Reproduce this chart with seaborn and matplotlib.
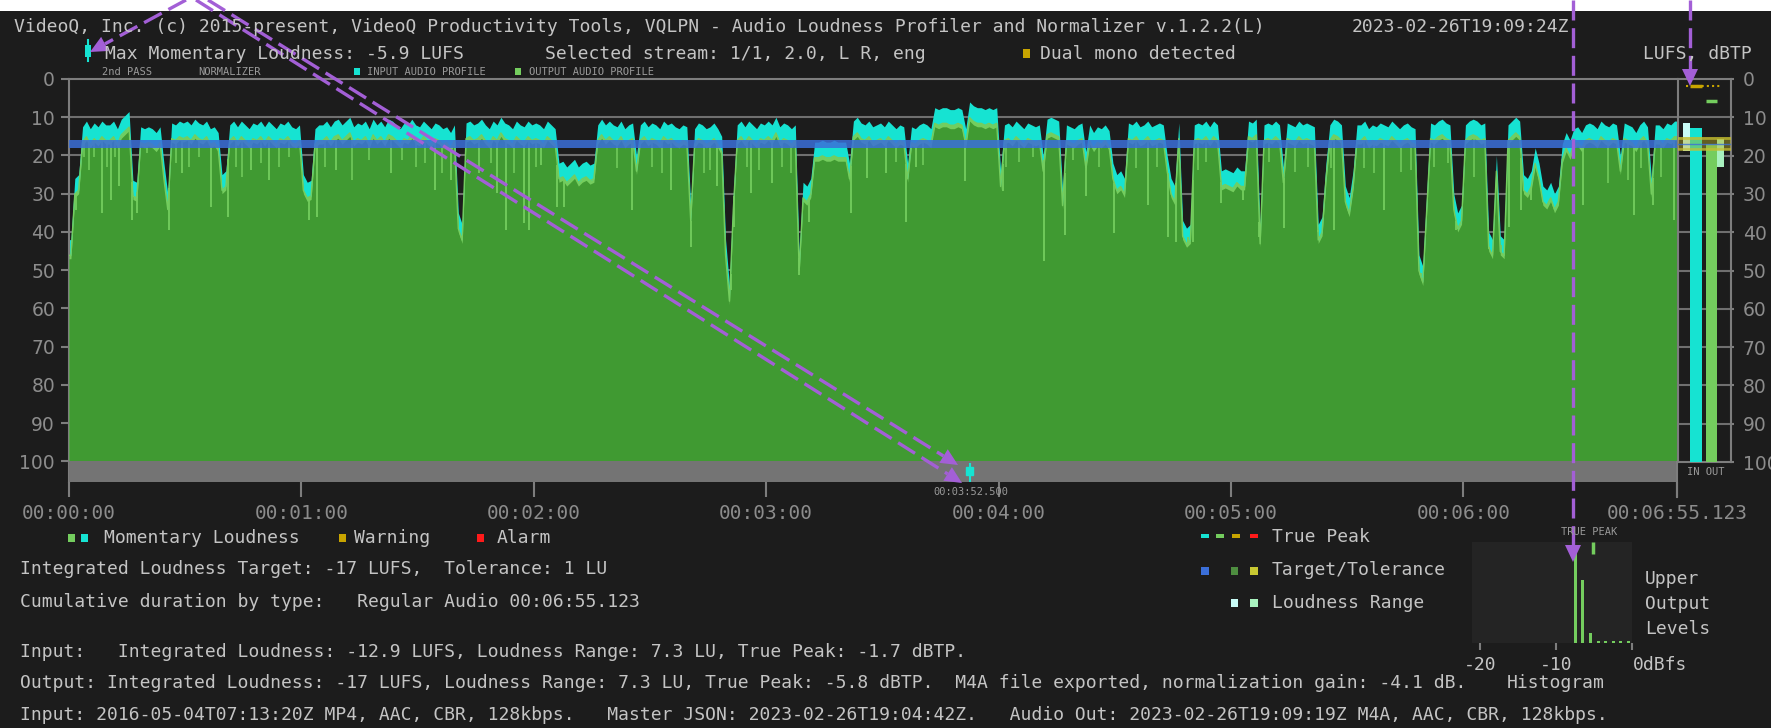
import numpy as np
import pandas as pd
import seaborn as sns
import matplotlib.pyplot as plt
from matplotlib.patches import Rectangle, Polygon

W, H = 1771, 728

# momentary loudness of the input, LU below 0 LUFS, one value per second
momentary_in = [
    42, 26, 25, 12.5, 11, 13, 11.5, 12.5, 11, 12,
    12, 11, 13, 10.5, 9.5, 8.5, 26.5, 27, 12.5, 13,
    12.5, 13, 14, 12.5, 22, 30, 11.5, 12, 11, 11.5,
    11, 12, 10.5, 11.5, 12, 11, 13, 12.5, 14, 25,
    24, 12, 11, 12.5, 11, 12, 13, 11.5, 12, 11,
    12.5, 11, 12, 13, 11.5, 12, 11, 12.5, 13, 12,
    25, 27, 26.5, 13, 12, 12, 11, 12.5, 11, 10.5,
    12, 11, 10, 12.5, 11.5, 12, 11, 13, 10.5, 12,
    11, 12.5, 10.5, 11, 12, 13, 11.5, 12, 10.5, 12,
    12.5, 11, 12, 13, 11.5, 12, 13, 12.5, 14, 12,
    35, 38, 11.5, 11, 12, 11.5, 10.5, 12, 13, 11,
    12, 10, 11.5, 12, 13, 11, 12, 12.5, 11, 12,
    11.5, 12, 13, 11, 12, 13, 22, 21.5, 23, 22,
    21, 23, 22, 21.5, 22.5, 22, 12, 10.5, 12, 11,
    12, 12.5, 11, 13, 12, 11.5, 20, 12, 11, 12.5,
    11.5, 12, 13, 11, 12, 11.5, 12.5, 13, 12, 12.5,
    33, 13, 11.5, 12, 13, 12.5, 11.5, 13, 15, 42,
    54, 30, 12, 11, 12.5, 11, 12, 13, 11.5, 12,
    11, 12, 10, 12.5, 11.5, 12, 13, 12, 46, 27,
    28, 26, 16.5, 16.5, 16, 16.5, 16.5, 16, 16.5, 16.5,
    16.5, 22, 11, 10, 11.5, 12, 11, 12.5, 12, 11.5,
    12.5, 11, 12, 13, 12, 12.5, 22, 12.5, 13, 12,
    11.5, 12, 13, 7.5, 8, 7.5, 7.5, 8, 8, 7.5,
    8, 13, 6, 7, 7.5, 7.5, 8, 7.5, 8, 7.5,
    24, 12, 11.5, 12.5, 11, 12, 13, 11.5, 12, 12.5,
    12, 20, 10.5, 10, 10.5, 11, 29, 12, 12.5, 13,
    12, 11.5, 19, 12, 14, 12.5, 13, 12, 13.5, 22,
    25, 24, 26, 11.5, 12, 11, 12.5, 12, 11, 12.5,
    12, 11.5, 12, 20, 26, 28, 11.5, 37, 39, 38,
    12, 11.5, 12, 11, 12.5, 11, 12, 24, 23.5, 24,
    24.5, 23, 24, 24, 11, 11.5, 10.5, 39, 12, 11.5,
    12, 11, 12, 23, 11.5, 12, 12.5, 11, 12, 11.5,
    12, 12.5, 38, 36, 22, 12, 10.5, 11, 12, 28,
    31, 24, 12, 12, 11, 13, 12, 12.5, 11.5, 12,
    12.5, 11, 12, 13, 12, 11.5, 12.5, 13, 46, 49,
    30, 11.5, 12, 11, 10.5, 11.5, 12, 30, 35, 33,
    12, 11, 10.5, 11, 12, 11.5, 40, 42, 20, 41,
    42, 12, 11, 10, 11, 25, 26, 24, 18, 22,
    28, 29, 27, 30, 28, 17, 14, 16, 13, 12.5,
    14, 12, 11.5, 12, 13, 11, 12, 12.5, 11.5, 12,
    20, 11.5, 12, 12.5, 14, 12, 11, 12.5, 26, 12,
    12, 13, 11.5, 12, 11,
]
duration_s = 415.123
norm_gain_db = -4.1

# short deep drops of the output curve (time s, depth LU)
dip_t = [1.7, 8.6, 10.8, 12.9, 16.3, 17.6, 25.8, 29.2, 36.6, 41.1, 47.1, 51.6, 61.9, 64.0, 68.8, 83.0, 94.6, 98.5, 101.5,
         105.8, 110.6, 112.7, 117.5, 118.8, 121.8, 126.1, 127.8, 145.4, 155.3, 160.5, 167.4, 170.8, 171.7, 176.0, 181.6,
         188.4, 191.0, 201.8, 206.0,
         211.0, 216.1, 218.7, 231.2, 241.0, 251.8, 257.0, 262.6, 269.9, 278.5, 283.6, 285.8, 288.8, 290.1, 297.4, 303.0,
         307.3,
         313.6, 322.4, 326.7, 339.6, 349.0, 358.1, 366.7, 369.7, 371.8, 374.9, 377.4, 390.8, 404.1, 408.8, 414.4]
dip_depth = [34.2, 35.1, 31.6, 28.1, 36.8, 35.1, 39.5, 24.6, 33.4, 36.0, 23.8, 26.4, 36.8, 36.0, 23.8, 24.6, 29.0, 26.4, 42.1,
             24.6, 29.9, 39.5, 37.7, 39.5, 22.5, 33.4, 33.4, 34.2, 29.0, 43.8, 28.1, 55.1, 38.6, 29.9, 27.3,
             51.2, 37.3, 35.1, 26.0,
             24.6, 37.3, 22.9, 26.8, 29.4, 47.7, 40.8, 30.7, 40.3, 32.9, 41.2, 42.5, 41.2, 42.5, 32.5, 31.6,
             41.2,
             39.0, 39.9, 39.5, 34.2, 50.8, 39.5, 43.8, 43.4, 38.6, 34.2, 31.6, 32.9, 35.5, 32.9, 36.8]

# shallow drops of the output curve (time s, depth LU)
shallow_t = [3.9, 5.2, 6.5, 9.9, 12.0, 20.2, 27.5, 31.0, 33.5, 43.0, 44.7, 49.5, 54.2, 56.8, 66.2, 73.1, 77.4, 86.0,
             89.5, 92.0, 96.3,
             108.9, 114.9, 120.5, 141.5, 150.6, 153.2, 163.9, 165.6, 175.1, 178.1, 184.1, 186.3,
             213.5, 220.4, 241.9, 245.3, 248.8, 259.1, 266.0, 275.5, 281.0, 291.4, 293.5, 309.9,
             316.4, 319.8, 325.8, 334.4, 337.0, 343.9, 346.5, 352.5, 355.9, 362.8, 397.2, 402.4, 405.8, 411.0]
shallow_depth = [20.3, 23.8, 20.3, 22.9, 20.3, 19.4, 22.0, 22.9, 20.3, 22.9, 25.5, 22.0, 22.9, 20.3, 22.9, 26.4, 21.2, 21.2,
                 22.9, 22.0, 24.6,
                 22.0, 24.6, 22.9, 23.3, 22.9, 24.6, 24.6, 23.8, 22.9, 23.8, 22.9, 24.6,
                 21.6, 22.5, 22.9, 21.6, 20.3, 21.2, 22.9, 23.3, 22.9, 23.8, 21.6, 21.6,
                 24.2, 22.9, 23.3, 23.3, 24.6, 24.2, 23.8, 22.9, 22.0, 25.5, 27.3, 26.4, 23.3, 25.5]

max_momentary_t = 232.5
time_ticks = [0, 60, 120, 180, 240, 300, 360, 415.123]
time_labels = ["00:00:00", "00:01:00", "00:02:00", "00:03:00", "00:04:00", "00:05:00", "00:06:00", "00:06:55.123"]
level_ticks = [0, 10, 20, 30, 40, 50, 60, 70, 80, 90, 100]

target_lufs = -17
tolerance_lu = 1

# meters: IN / OUT
meter_names = ["IN", "OUT"]
meter_integrated = [12.9, 17.0]
meter_lra_top = [11.4, 15.7]
meter_lra = [7.3, 7.3]
meter_true_peak = [1.7, 5.8]

# histogram of upper output levels
hist_db = [-7.5, -6.5, -5.5, -4.5, -3.5, -2.5, -1.5, -0.5]
hist_frac = [0.97, 0.62, 0.10, 0.02, 0.02, 0.02, 0.02, 0.02]
hist_true_peak = -5.2

BG = "#1c1c1c"
CYAN = "#16e3d2"
GREEN_D = "#409a32"
GREEN_L = "#74cd5e"
BLUE = "#3b6fd9"
GRID = "#6f6f6f"
FRAME = "#7d7d7d"
TXT = "#c4c4c4"
TICK = "#8c8c8c"
YEL = "#c8a400"
RED = "#ff1a1a"
PURPLE = "#a35fd6"
MONO = "DejaVu Sans Mono"

plt.rcParams["font.family"] = ["DejaVu Sans Mono", "DejaVu Sans"]


def rect(x0, y0, x1, y1):
    # image pixel box -> figure fraction
    return [x0 / W, 1 - y1 / H, (x1 - x0) / W, (y1 - y0) / H]


fig = plt.figure(figsize=(W / 100, H / 100), dpi=100, facecolor=BG)

# ---------------- main loudness profile ----------------
ax = fig.add_axes(rect(69, 79, 1677, 481.7))
ax.set_facecolor(BG)

n = len(momentary_in)
t_mid = np.concatenate([[0], np.arange(n) + 0.5, [duration_s]])
inp = np.concatenate([[momentary_in[0]], momentary_in, [momentary_in[-1]]])
df = pd.DataFrame({"t": t_mid, "inp": inp})
df["out"] = df["inp"] - norm_gain_db

for v in level_ticks[1:-1]:
    ax.axhline(v, color=GRID, lw=1.5, zorder=1)

ax.fill_between(df["t"], df["inp"], 100, color=CYAN, lw=0, zorder=2)
ax.fill_between(df["t"], df["out"], 100, color=GREEN_L, lw=0, zorder=3)
ax.fill_between(df["t"], df["out"] + 0.9, 100, color=GREEN_D, lw=0, zorder=4)
out_deep = np.interp(dip_t, df["t"], df["out"])
out_shallow = np.interp(shallow_t, df["t"], df["out"])
ax.vlines(dip_t, out_deep, dip_depth, color=GREEN_L, lw=1.3, zorder=5)
ax.vlines(shallow_t, out_shallow, shallow_depth, color=GREEN_L, lw=1.1, zorder=5)
sns.lineplot(data=df, x="t", y="out", color=GREEN_L, lw=1.0, ax=ax, zorder=5)

target = -target_lufs
ax.axhspan(target - tolerance_lu, target + tolerance_lu, color=BLUE, alpha=0.85, lw=0, zorder=6)
ax.axhspan(100, 105.3, color="#747474", lw=0, zorder=7)

# max momentary loudness marker
ax.vlines(max_momentary_t, 100.4, 105.3, color=CYAN, lw=1.5, zorder=8)
ax.add_patch(Rectangle((max_momentary_t - 0.9, 101.4), 1.8, 2.2, color=CYAN, zorder=8))

ax.set_xlim(0, duration_s)
ax.set_ylim(105.3, 0)
ax.set_xlabel("")
ax.set_ylabel("")
for s in ["bottom", "right"]:
    ax.spines[s].set_visible(False)
for s in ["left", "top"]:
    ax.spines[s].set_color(FRAME)
    ax.spines[s].set_linewidth(1.5)
ax.set_yticks(level_ticks, labels=[str(v) for v in level_ticks], fontfamily="DejaVu Sans")
ax.set_xticks(time_ticks, labels=time_labels, fontfamily=MONO)
ax.tick_params(axis="y", length=6, width=1.5, color=FRAME, labelcolor=TICK, labelsize=13.5, pad=4)
ax.tick_params(axis="x", length=11, width=1.5, color=FRAME, labelcolor=TICK, labelsize=14, pad=5)

# ---------------- IN / OUT meter ----------------
am = fig.add_axes(rect(1677.5, 79, 1731, 462))
am.set_facecolor(BG)
am.set_xlim(0, 1)
am.set_ylim(100, 0)
for v in level_ticks[1:-1]:
    am.axhline(v, color=GRID, lw=1.5, zorder=1)
for s in am.spines.values():
    s.set_color(FRAME)
    s.set_linewidth(1.5)
bar_x = [0.23, 0.525]
bar_w = [0.225, 0.211]
bar_c = [CYAN, GREEN_L]
lra_x = [0.094, 0.736]
lra_c = ["#c8fbf6", "#a9f2bf"]
for i in range(2):
    am.add_patch(Rectangle((bar_x[i], meter_integrated[i]), bar_w[i], 100 - meter_integrated[i],
                           color=bar_c[i], lw=0, zorder=3))
    am.add_patch(Rectangle((lra_x[i], meter_lra_top[i]), 0.14, meter_lra[i], color=lra_c[i], lw=0, zorder=3))
am.axhspan(15.1, 18.6, color="#b8b028", alpha=0.45, lw=0, zorder=4)
am.axhline(15.3, color="#c8c030", lw=2, alpha=0.7, zorder=4)
am.axhline(18.3, color="#c8c030", lw=2, alpha=0.7, zorder=4)
am.axhline(target, color=BLUE, lw=1, alpha=0.8, zorder=4)
am.hlines(meter_true_peak[0] + 0.1, 0.15, 0.82, color=YEL, lw=1.5, ls=(0, (1, 1.5)), zorder=5)
am.hlines(meter_true_peak[0] + 0.1, bar_x[0], bar_x[0] + bar_w[0], color=YEL, lw=2.5, zorder=5)
am.hlines(meter_true_peak[1], bar_x[1], bar_x[1] + bar_w[1], color=GREEN_L, lw=2.5, zorder=5)
am.yaxis.tick_right()
am.set_xticks([])
am.set_yticks(level_ticks, labels=[str(v) for v in level_ticks], fontfamily="DejaVu Sans")
am.tick_params(axis="y", length=2.5, width=1.5, color=FRAME, labelcolor=TICK, labelsize=13.5, pad=6)

# ---------------- histogram ----------------
ah = fig.add_axes(rect(1471.6, 541.7, 1632.4, 643.3))
ah.set_facecolor("#242424")
sns.barplot(x=hist_db, y=hist_frac, native_scale=True, orient="x", width=0.4, color=GREEN_L,
            saturation=1, ax=ah)
ah.vlines(hist_true_peak, 0.88, 1.0, color=GREEN_L, lw=2.5)
ah.set_xlim(-21.1, 0)
ah.set_ylim(0, 1)
ah.set_xlabel("")
ah.set_ylabel("")
ah.set_yticks([])
for s in ah.spines.values():
    s.set_visible(False)
ah.set_xticks([-20, -10, 0], labels=["-20", "-10", "0dBfs"], fontfamily=MONO)
ah.tick_params(axis="x", length=5, width=1.5, color=FRAME, labelcolor=TXT, labelsize=13, pad=4)
ah.get_xticklabels()[-1].set_horizontalalignment("left")

# ---------------- overlay: texts, legends, arrows ----------------
ov = fig.add_axes([0, 0, 1, 1], zorder=10)
ov.set_xlim(0, W)
ov.set_ylim(H, 0)
ov.set_axis_off()
ov.patch.set_alpha(0)


def txt(x, y, s, size=13, color=TXT, **kw):
    ov.text(x, y, s, fontsize=size, color=color, fontfamily=MONO, va="center", **kw)


def box(x0, y0, x1, y1, color):
    ov.add_patch(Rectangle((x0, y0), x1 - x0, y1 - y0, color=color, lw=0))


ov.add_patch(Rectangle((0, 0), W, 11, color="white", lw=0))

txt(14, 27, "VideoQ, Inc. (c) 2015-present, VideoQ Productivity Tools, VQLPN - Audio Loudness Profiler and Normalizer v.1.2.2(L)")
txt(1352, 27, "2023-02-26T19:09:24Z")
ov.plot([88, 88], [40, 61], color=CYAN, lw=1.5)
box(85, 45, 91, 57, CYAN)
txt(105, 54, "Max Momentary Loudness: -5.9 LUFS")
txt(545, 54, "Selected stream: 1/1, 2.0, L R, eng")
box(1023, 49, 1030, 58, YEL)
txt(1040, 54, "Dual mono detected")
txt(1643, 54, "LUFS, dBTP")

small = dict(size=7.5, color="#9a9a9a")
txt(102, 72, "2nd PASS", **small)
txt(198, 72, "NORMALIZER", **small)
box(354, 68, 360, 75, CYAN)
txt(367, 72, "INPUT AUDIO PROFILE", **small)
box(515, 68, 521, 75, GREEN_L)
txt(529, 72, "OUTPUT AUDIO PROFILE", **small)
txt(1706, 472, "IN OUT", ha="center", **small)
txt(971, 492, "00:03:52.500", ha="center", **small)
txt(1589, 532, "TRUE PEAK", ha="center", **small)
ov.plot([1677.5, 1677.5], [462, 497], color=FRAME, lw=1.5)

# legend row, left
box(68, 534, 75, 542, GREEN_L)
box(81, 534, 88, 542, CYAN)
txt(104, 538, "Momentary Loudness")
box(339, 534, 346, 542, YEL)
txt(354, 538, "Warning")
box(477, 534, 484, 542, RED)
txt(497, 538, "Alarm")
txt(20, 569, "Integrated Loudness Target: -17 LUFS,  Tolerance: 1 LU")
txt(20, 602, "Cumulative duration by type:   Regular Audio 00:06:55.123")
txt(20, 652, "Input:   Integrated Loudness: -12.9 LUFS, Loudness Range: 7.3 LU, True Peak: -1.7 dBTP.")
txt(20, 683, "Output: Integrated Loudness: -17 LUFS, Loudness Range: 7.3 LU, True Peak: -5.8 dBTP.  "
             "M4A file exported, normalization gain: -4.1 dB.")
txt(20, 715, "Input: 2016-05-04T07:13:20Z MP4, AAC, CBR, 128kbps.   Master JSON: 2023-02-26T19:04:42Z.   "
             "Audio Out: 2023-02-26T19:09:19Z M4A, AAC, CBR, 128kbps.")

# legend, right
for x0, c in zip([1201, 1216, 1232, 1250], [CYAN, GREEN_L, YEL, RED]):
    box(x0, 534, x0 + 8, 538, c)
txt(1272, 537, "True Peak")
box(1201, 567, 1209, 575, BLUE)
box(1231, 567, 1238, 575, "#4e8e40")
box(1250, 567, 1258, 575, "#c8c832")
txt(1272, 570, "Target/Tolerance")
box(1231, 599, 1238, 607, "#c8fbf6")
box(1250, 599, 1258, 607, "#a9f2bf")
txt(1272, 603, "Loudness Range")

txt(1645, 579, "Upper")
txt(1645, 604, "Output")
txt(1645, 629, "Levels")
txt(1556, 683, "Histogram", ha="center")


def dashed_arrow(x0, y0, x1, y1):
    d = np.hypot(x1 - x0, y1 - y0)
    ux, uy = (x1 - x0) / d, (y1 - y0) / d
    bx, by = x1 - ux * 17, y1 - uy * 17
    ov.plot([x0, bx], [y0, by], color=PURPLE, lw=2.4, ls=(0, (6, 2.3)), solid_capstyle="butt")
    px, py = -uy * 8, ux * 8
    ov.add_patch(Polygon([(x1, y1), (bx + px, by + py), (bx - px, by - py)], closed=True,
                         color=PURPLE, lw=0))


dashed_arrow(186, 0, 90, 52)
dashed_arrow(208, 0, 958, 465)
dashed_arrow(196, 0, 962, 483)
dashed_arrow(1573, 0, 1573, 562)
dashed_arrow(1690, 0, 1690, 86)

fig.savefig("out.png", dpi=100, facecolor=BG)
